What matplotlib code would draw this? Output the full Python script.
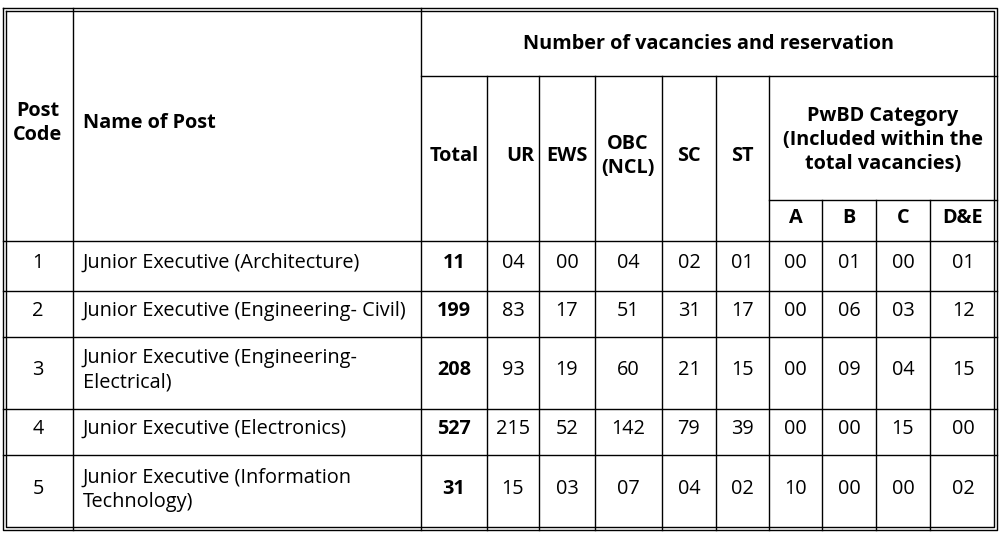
import matplotlib
matplotlib.use("Agg")
import matplotlib.pyplot as plt

post_codes = ["1", "2", "3", "4", "5"]
post_names = ["Junior Executive (Architecture)",
              "Junior Executive (Engineering- Civil)",
              "Junior Executive (Engineering-\nElectrical)",
              "Junior Executive (Electronics)",
              "Junior Executive (Information\nTechnology)"]
total = ["11", "199", "208", "527", "31"]
ur = ["04", "83", "93", "215", "15"]
ews = ["00", "17", "19", "52", "03"]
obc = ["04", "51", "60", "142", "07"]
sc = ["02", "31", "21", "79", "04"]
st = ["01", "17", "15", "39", "02"]
pwbd_a = ["00", "00", "00", "00", "10"]
pwbd_b = ["01", "06", "09", "00", "00"]
pwbd_c = ["00", "03", "04", "15", "00"]
pwbd_de = ["01", "12", "15", "00", "02"]

FONT = "Open Sans"
FS = 14.3

fig = plt.figure(figsize=(10.03, 5.37), dpi=100)
ax = fig.add_axes([0, 0, 1, 1])
ax.set_xlim(0, 1003)
ax.set_ylim(537, 0)
ax.axis("off")

xs = [3, 73, 421, 487, 539, 595, 662, 716, 769, 822, 876, 930, 997]
row_y = [241, 291, 337, 409, 455, 530]
lw = 1.0
def hl(y, x0, x1):
    ax.plot([x0, x1], [y, y], color="black", lw=lw)
def vl(x, y0, y1):
    ax.plot([x, x], [y0, y1], color="black", lw=lw)

for d in (0, 3):
    ax.plot([3 + d, 997 - d, 997 - d, 3 + d, 3 + d], [8 + d, 8 + d, 530 - d, 530 - d, 8 + d],
            color="black", lw=lw)
hl(76, 421, 997)
hl(200, 769, 997)
for y in row_y[:-1]:
    hl(y, 3, 997)
for x in xs[1:-1]:
    top = 8
    if x >= 487:
        top = 76
    if x >= 822:
        top = 200
    vl(x, top, 530)

def t(x, y, s, bold=False, ha="center"):
    ax.text(x, y - 3, s, ha=ha, va="center", fontsize=FS, family=FONT,
            fontweight="bold" if bold else "normal", linespacing=1.3)

t(38, 126, "Post\nCode", bold=True)
t(83, 126, "Name of Post", bold=True, ha="left")
t(709, 47, "Number of vacancies and reservation", bold=True)
t(454, 159, "Total", bold=True)
t(520, 159, "UR", bold=True)
t(567, 159, "EWS", bold=True)
t(628, 159, "OBC\n(NCL)", bold=True)
t(689, 159, "SC", bold=True)
t(742, 159, "ST", bold=True)
t(883, 143, "PwBD Category\n(Included within the\ntotal vacancies)", bold=True)
for x, s in zip([796, 849, 903, 963], ["A", "B", "C", "D&E"]):
    t(x, 221, s, bold=True)

centers = [(row_y[i] + row_y[i + 1]) / 2 for i in range(5)]
cols = [ur, ews, obc, sc, st, pwbd_a, pwbd_b, pwbd_c, pwbd_de]
col_x = [(xs[i] + xs[i + 1]) / 2 for i in range(3, 12)]
for i, y in enumerate(centers):
    t(38, y, post_codes[i])
    t(83, y, post_names[i], ha="left")
    t(454, y, total[i], bold=True)
    for cx, c in zip(col_x, cols):
        t(cx, y, c[i])

fig.savefig("out.png", dpi=100)
